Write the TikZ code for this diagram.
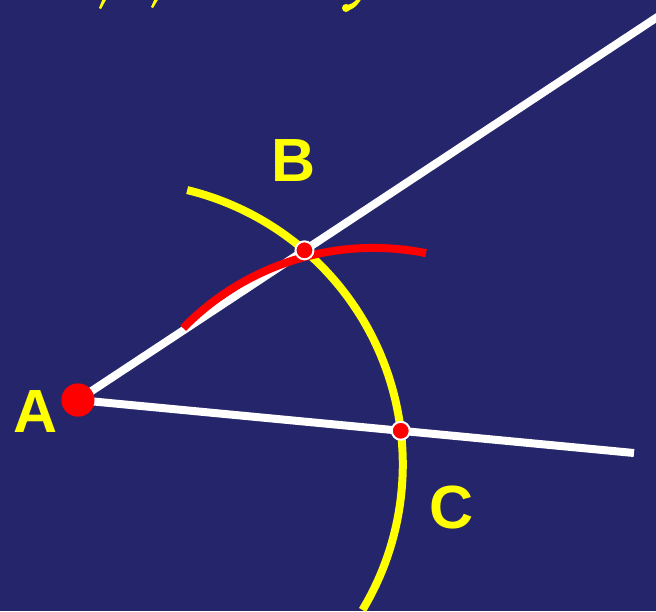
\documentclass[tikz,border=0pt]{standalone}
\usepackage{fontspec}
\setmainfont{Liberation Sans}
\usetikzlibrary{intersections}
\definecolor{bg}{RGB}{37,37,107}
\definecolor{bgl}{RGB}{45,46,120}
\definecolor{ylw}{RGB}{255,255,0}
\definecolor{rd}{RGB}{255,0,0}
\begin{document}
\begin{tikzpicture}[x=1pt,y=-1pt,
  ray/.style={draw=white,line width=8pt},
  yarc/.style={draw=ylw,line width=8pt},
  rarc/.style={draw=rd,line width=8pt},
  dotpt/.style={circle,fill=rd,draw=white,line width=2pt,minimum size=18pt,inner sep=0pt},
  bigpt/.style={circle,fill=rd,minimum size=33pt,inner sep=0pt},
  lbl/.style={text=ylw,font=\fontsize{61}{61}\selectfont\bfseries,inner sep=0pt}]
\fill[bg] (0,0) rectangle (656,611);
\useasboundingbox (0,0) rectangle (656,611);
\clip (0,0) rectangle (656,611);
% cut-off text fragments at the top
\fill[ylw] (103,-2) -- (107,-2) -- (101,9) -- (99,8) -- cycle;
\fill[ylw] (155,-2) -- (159,-2) -- (153,8) -- (151,7) -- cycle;
\fill[ylw] (358,-2) -- (362,-2) .. controls (356,8) and (350,11) .. (345,11) -- (345,5) .. controls (350,5) and (354,3) .. cycle;
\fill[ylw] (346,8) circle (4);
% points
\coordinate (E1) at (662,14);
\coordinate (E2) at (634,453);
\coordinate (Oy) at (120.3,464.5);
\coordinate (Or) at (373.5,513.9);
\node[bigpt] (A) at (78,400) {};
\draw[ray,name path=r1] (A.center) -- (E1);
\draw[ray,name path=r2] (A.center) -- (E2);
\draw[yarc,name path=ya] (Oy) ++(-76.3:282.5) arc[start angle=-76.3,end angle=31,radius=282.5];
\draw[rarc] (Or) ++(-135.7:266) arc[start angle=-135.7,end angle=-78.6,radius=266];
\node[bigpt] at (A) {};
\path[name intersections={of=r1 and ya,by=Bi}];
\path[name intersections={of=r2 and ya,by=Ci}];
\node[dotpt] (B) at (Bi) {};
\node[dotpt] (C) at (Ci) {};
\node[lbl] (la) at (36,412) {A};
\node[lbl] (lb) at (294,161) {B};
\node[lbl] (lc) at (452,507) {C};
\end{tikzpicture}
\end{document}
